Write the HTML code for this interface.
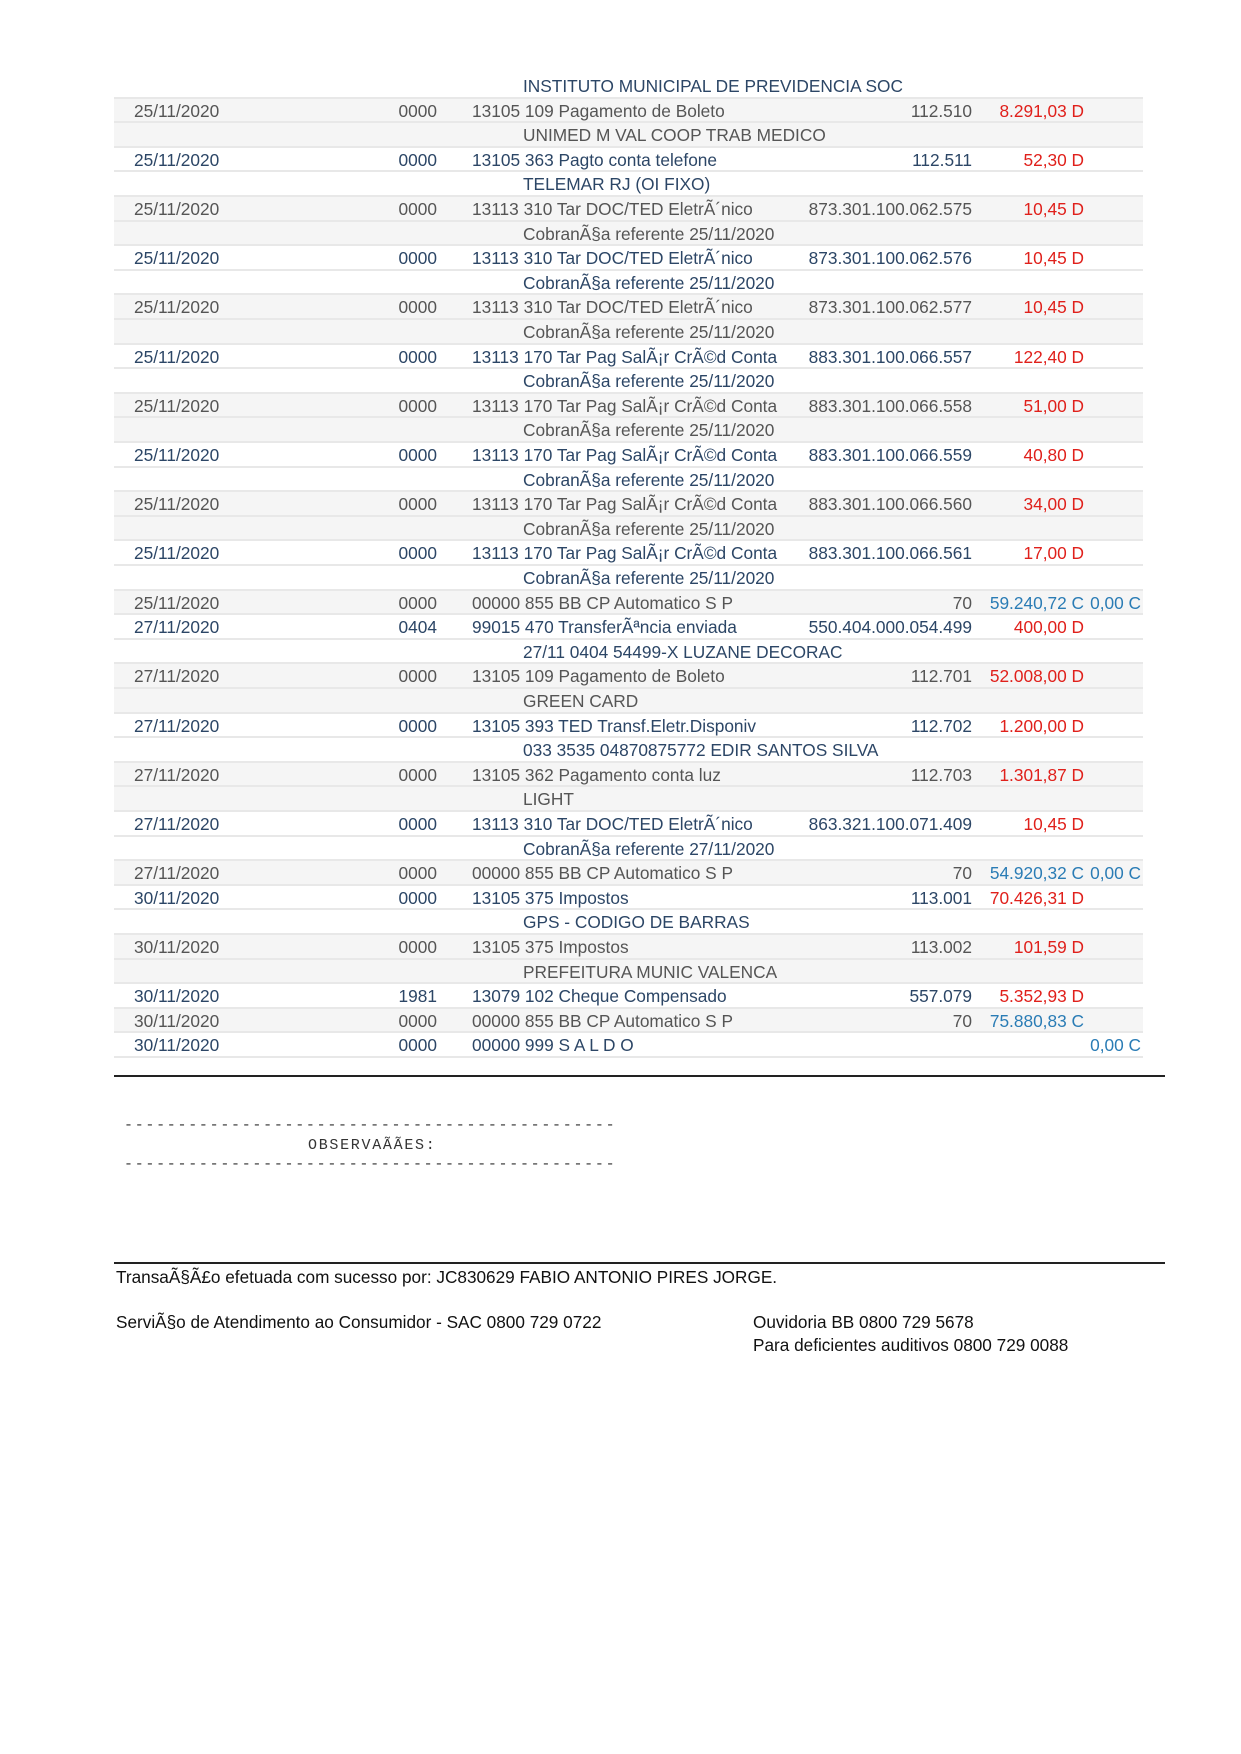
<!DOCTYPE html>
<html><head><meta charset="utf-8">
<style>
body{margin:0;width:1241px;height:1754px;background:#fff;position:relative;font-family:"Liberation Sans",sans-serif;overflow:hidden}
.r{position:absolute;left:114px;width:1029px;height:24.6px;box-sizing:border-box;border-bottom:2px solid #e8e8e8;font-size:17.3px;line-height:25px;color:#2c4666}
.g{background:#f5f5f5;color:#555}
.r span{position:absolute;top:0;white-space:nowrap}
.d{left:20px}.a{right:706px}.c{left:358px}.n{right:171px}.v{right:59px}.x{right:2px}
.t{left:409px}
.red{color:#e0201b}.blu{color:#2a7cb5}
.f{position:absolute;font-size:17.2px;color:#111;white-space:nowrap}
.m{position:absolute;font-family:"Liberation Mono",monospace;font-size:15px;letter-spacing:1.7px;color:#333;white-space:pre}
</style></head><body>
<div class="r" style="top:74px"><span class="t">INSTITUTO MUNICIPAL DE PREVIDENCIA SOC</span></div>
<div class="r g" style="top:98.6px"><span class="d">25/11/2020</span><span class="a">0000</span><span class="c">13105 109 Pagamento de Boleto</span><span class="n">112.510</span><span class="v red">8.291,03 D</span></div>
<div class="r g" style="top:123.2px"><span class="t">UNIMED M VAL COOP TRAB MEDICO</span></div>
<div class="r" style="top:147.8px"><span class="d">25/11/2020</span><span class="a">0000</span><span class="c">13105 363 Pagto conta telefone</span><span class="n">112.511</span><span class="v red">52,30 D</span></div>
<div class="r" style="top:172.4px"><span class="t">TELEMAR RJ (OI FIXO)</span></div>
<div class="r g" style="top:197px"><span class="d">25/11/2020</span><span class="a">0000</span><span class="c">13113 310 Tar DOC/TED EletrÃ´nico</span><span class="n">873.301.100.062.575</span><span class="v red">10,45 D</span></div>
<div class="r g" style="top:221.6px"><span class="t">CobranÃ§a referente 25/11/2020</span></div>
<div class="r" style="top:246.2px"><span class="d">25/11/2020</span><span class="a">0000</span><span class="c">13113 310 Tar DOC/TED EletrÃ´nico</span><span class="n">873.301.100.062.576</span><span class="v red">10,45 D</span></div>
<div class="r" style="top:270.8px"><span class="t">CobranÃ§a referente 25/11/2020</span></div>
<div class="r g" style="top:295.4px"><span class="d">25/11/2020</span><span class="a">0000</span><span class="c">13113 310 Tar DOC/TED EletrÃ´nico</span><span class="n">873.301.100.062.577</span><span class="v red">10,45 D</span></div>
<div class="r g" style="top:320px"><span class="t">CobranÃ§a referente 25/11/2020</span></div>
<div class="r" style="top:344.6px"><span class="d">25/11/2020</span><span class="a">0000</span><span class="c">13113 170 Tar Pag SalÃ¡r CrÃ©d Conta</span><span class="n">883.301.100.066.557</span><span class="v red">122,40 D</span></div>
<div class="r" style="top:369.2px"><span class="t">CobranÃ§a referente 25/11/2020</span></div>
<div class="r g" style="top:393.8px"><span class="d">25/11/2020</span><span class="a">0000</span><span class="c">13113 170 Tar Pag SalÃ¡r CrÃ©d Conta</span><span class="n">883.301.100.066.558</span><span class="v red">51,00 D</span></div>
<div class="r g" style="top:418.4px"><span class="t">CobranÃ§a referente 25/11/2020</span></div>
<div class="r" style="top:443px"><span class="d">25/11/2020</span><span class="a">0000</span><span class="c">13113 170 Tar Pag SalÃ¡r CrÃ©d Conta</span><span class="n">883.301.100.066.559</span><span class="v red">40,80 D</span></div>
<div class="r" style="top:467.6px"><span class="t">CobranÃ§a referente 25/11/2020</span></div>
<div class="r g" style="top:492.2px"><span class="d">25/11/2020</span><span class="a">0000</span><span class="c">13113 170 Tar Pag SalÃ¡r CrÃ©d Conta</span><span class="n">883.301.100.066.560</span><span class="v red">34,00 D</span></div>
<div class="r g" style="top:516.8px"><span class="t">CobranÃ§a referente 25/11/2020</span></div>
<div class="r" style="top:541.4px"><span class="d">25/11/2020</span><span class="a">0000</span><span class="c">13113 170 Tar Pag SalÃ¡r CrÃ©d Conta</span><span class="n">883.301.100.066.561</span><span class="v red">17,00 D</span></div>
<div class="r" style="top:566px"><span class="t">CobranÃ§a referente 25/11/2020</span></div>
<div class="r g" style="top:590.6px"><span class="d">25/11/2020</span><span class="a">0000</span><span class="c">00000 855 BB CP Automatico S P</span><span class="n">70</span><span class="v blu">59.240,72 C</span><span class="x blu">0,00 C</span></div>
<div class="r" style="top:615.2px"><span class="d">27/11/2020</span><span class="a">0404</span><span class="c">99015 470 TransferÃªncia enviada</span><span class="n">550.404.000.054.499</span><span class="v red">400,00 D</span></div>
<div class="r" style="top:639.8px"><span class="t">27/11 0404 54499-X LUZANE DECORAC</span></div>
<div class="r g" style="top:664.4px"><span class="d">27/11/2020</span><span class="a">0000</span><span class="c">13105 109 Pagamento de Boleto</span><span class="n">112.701</span><span class="v red">52.008,00 D</span></div>
<div class="r g" style="top:689px"><span class="t">GREEN CARD</span></div>
<div class="r" style="top:713.6px"><span class="d">27/11/2020</span><span class="a">0000</span><span class="c">13105 393 TED Transf.Eletr.Disponiv</span><span class="n">112.702</span><span class="v red">1.200,00 D</span></div>
<div class="r" style="top:738.2px"><span class="t">033 3535 04870875772 EDIR SANTOS SILVA</span></div>
<div class="r g" style="top:762.8px"><span class="d">27/11/2020</span><span class="a">0000</span><span class="c">13105 362 Pagamento conta luz</span><span class="n">112.703</span><span class="v red">1.301,87 D</span></div>
<div class="r g" style="top:787.4px"><span class="t">LIGHT</span></div>
<div class="r" style="top:812px"><span class="d">27/11/2020</span><span class="a">0000</span><span class="c">13113 310 Tar DOC/TED EletrÃ´nico</span><span class="n">863.321.100.071.409</span><span class="v red">10,45 D</span></div>
<div class="r" style="top:836.6px"><span class="t">CobranÃ§a referente 27/11/2020</span></div>
<div class="r g" style="top:861.2px"><span class="d">27/11/2020</span><span class="a">0000</span><span class="c">00000 855 BB CP Automatico S P</span><span class="n">70</span><span class="v blu">54.920,32 C</span><span class="x blu">0,00 C</span></div>
<div class="r" style="top:885.8px"><span class="d">30/11/2020</span><span class="a">0000</span><span class="c">13105 375 Impostos</span><span class="n">113.001</span><span class="v red">70.426,31 D</span></div>
<div class="r" style="top:910.4px"><span class="t">GPS - CODIGO DE BARRAS</span></div>
<div class="r g" style="top:935px"><span class="d">30/11/2020</span><span class="a">0000</span><span class="c">13105 375 Impostos</span><span class="n">113.002</span><span class="v red">101,59 D</span></div>
<div class="r g" style="top:959.6px"><span class="t">PREFEITURA MUNIC VALENCA</span></div>
<div class="r" style="top:984.2px"><span class="d">30/11/2020</span><span class="a">1981</span><span class="c">13079 102 Cheque Compensado</span><span class="n">557.079</span><span class="v red">5.352,93 D</span></div>
<div class="r g" style="top:1008.8px"><span class="d">30/11/2020</span><span class="a">0000</span><span class="c">00000 855 BB CP Automatico S P</span><span class="n">70</span><span class="v blu">75.880,83 C</span></div>
<div class="r" style="top:1033.4px"><span class="d">30/11/2020</span><span class="a">0000</span><span class="c">00000 999 S A L D O</span><span class="x blu">0,00 C</span></div>

<div style="position:absolute;left:114px;top:1075px;width:1051px;height:2px;background:#222"></div>
<div class="m" style="left:124px;top:1117px">----------------------------------------------</div>
<div class="m" style="left:308px;top:1137px">OBSERVAÃÃES:</div>
<div class="m" style="left:124px;top:1156px">----------------------------------------------</div>
<div style="position:absolute;left:114px;top:1262px;width:1051px;height:2px;background:#222"></div>
<div class="f" style="left:116px;top:1267px">TransaÃ§Ã£o efetuada com sucesso por: JC830629 FABIO ANTONIO PIRES JORGE.</div>
<div class="f" style="left:116px;top:1312px">ServiÃ§o de Atendimento ao Consumidor - SAC 0800 729 0722</div>
<div class="f" style="left:753px;top:1312px">Ouvidoria BB 0800 729 5678</div>
<div class="f" style="left:753px;top:1335px">Para deficientes auditivos 0800 729 0088</div>
</body></html>
